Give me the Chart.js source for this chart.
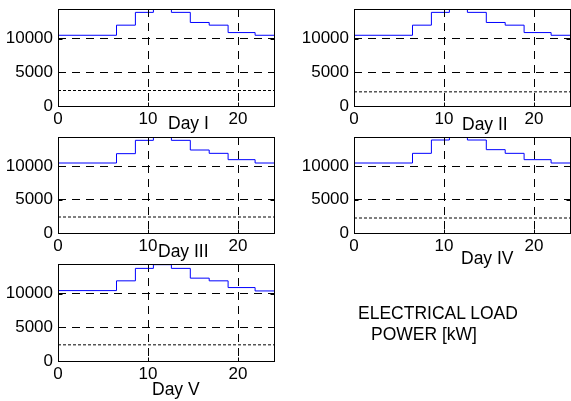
<!DOCTYPE html>
<html>
<head>
<meta charset="utf-8">
<script src="https://cdn.jsdelivr.net/npm/chart.js@4.4.1/dist/chart.umd.min.js"></script>
<style>
  html, body { margin: 0; padding: 0; background: #fff; }
  body { width: 571px; height: 401px; position: relative; overflow: hidden; }
  canvas { position: absolute; }
  .lbl {
    position: absolute;
    font-family: 'Liberation Sans', Arial, sans-serif;
    font-size: 17.5px;
    line-height: 1;
    color: #000;
    white-space: nowrap;
  }
</style>
</head>
<body>
<script>
// hour at which each load step starts (last entry closes the day)
let hours = [0, 6.5, 8.6, 10.6, 12.6, 14.7, 16.8, 18.9, 21.9, 24];

// electrical load per step, kW
let dayI   = [10500, 12000, 13900, 14400, 13900, 12400, 12000, 10900, 10500, 10500];
let dayII  = [10500, 12000, 13900, 14400, 13900, 12400, 12000, 10900, 10500, 10500];
let dayIII = [10500, 11900, 13900, 14400, 13900, 12450, 11950, 11000, 10500, 10500];
let dayIV  = [10500, 11950, 13950, 14400, 13950, 12500, 11950, 11000, 10500, 10500];
let dayV   = [10450, 11900, 13750, 14300, 13750, 12300, 11900, 10900, 10400, 10400];

// lower reference level drawn dotted
let minLoad = [2300, 2100, 2400, 2250, 2400];

let dayNames = ['Day I', 'Day II', 'Day III', 'Day IV', 'Day V'];
let xTicks = [0, 10, 20];
let yTicks = [0, 5000, 10000];
let yMax = 14400;

let fontFamily = "'Liberation Sans', Arial, sans-serif";

// where each small panel sits (plot area left/top and height)
let panels = [
    { load: dayI,   left: 58,  top: 9,   h: 97, label: [168, 114.7] },
    { load: dayII,  left: 354, top: 9,   h: 97, label: [462, 115.7] },
    { load: dayIII, left: 58,  top: 137, h: 96, label: [158, 242.7] },
    { load: dayIV,  left: 354, top: 137, h: 96, label: [461, 249.7] },
    { load: dayV,   left: 58,  top: 264, h: 97, label: [152, 380.7] }
];

let axisW = 58, axisH = 22, padTop = 16, plotW = 216;

// solid frame round the plot area plus small inward ticks
let framePlugin = {
    id: 'frame',
    afterDraw(chart) {
        let ctx = chart.ctx, a = chart.chartArea;
        let l = Math.round(a.left) + 0.5, t = Math.round(a.top) + 0.5;
        let r = Math.round(a.right) + 0.5, b = Math.round(a.bottom) + 0.5;
        ctx.save();
        ctx.strokeStyle = '#000';
        ctx.lineWidth = 1;
        ctx.setLineDash([]);
        ctx.strokeRect(l, t, r - l, b - t);
        ctx.beginPath();
        xTicks.forEach(v => {
            if (v <= 0) return;
            let px = Math.round(chart.scales.x.getPixelForValue(v)) + 0.5;
            ctx.moveTo(px, b); ctx.lineTo(px, b - 4);
            ctx.moveTo(px, t); ctx.lineTo(px, t + 4);
        });
        yTicks.forEach(v => {
            if (v <= 0) return;
            let py = Math.round(chart.scales.y.getPixelForValue(v)) + 0.5;
            ctx.moveTo(l, py); ctx.lineTo(l + 4, py);
            ctx.moveTo(r, py); ctx.lineTo(r - 4, py);
        });
        ctx.stroke();
        ctx.restore();
    }
};

function gridColor(c) {
    return (c.tick && c.tick.value > 0) ? '#000' : 'rgba(0,0,0,0)';
}

panels.forEach((p, i) => {
    let canvas = document.createElement('canvas');
    canvas.width = axisW + plotW + 1;
    canvas.height = padTop + p.h + axisH;
    canvas.style.left = (p.left - axisW) + 'px';
    canvas.style.top = (p.top - padTop) + 'px';
    document.body.appendChild(canvas);

    new Chart(canvas, {
        type: 'line',
        data: {
            datasets: [{
                data: hours.map((h, k) => ({ x: h, y: p.load[k] })),
                borderColor: '#0000ff',
                borderWidth: 1,
                stepped: 'before',
                pointRadius: 0,
                fill: false
            }, {
                data: [{ x: 0, y: minLoad[i] }, { x: 24, y: minLoad[i] }],
                borderColor: '#000',
                borderWidth: 1,
                borderDash: [3, 2],
                pointRadius: 0,
                fill: false
            }]
        },
        options: {
            responsive: false,
            animation: false,
            layout: { padding: { top: padTop, right: 1, left: 0, bottom: 0 } },
            plugins: { legend: { display: false }, tooltip: { enabled: false } },
            scales: {
                x: {
                    type: 'linear',
                    min: 0,
                    max: 24,
                    afterBuildTicks: s => { s.ticks = xTicks.map(v => ({ value: v })); },
                    afterFit: s => { s.height = axisH; },
                    grid: { color: gridColor, lineWidth: 1, drawTicks: false },
                    border: { display: false, dash: [8, 6] },
                    ticks: {
                        color: '#000',
                        font: { family: fontFamily, size: 17 },
                        padding: 3,
                        maxRotation: 0,
                        autoSkip: false,
                        callback: v => String(v)
                    }
                },
                y: {
                    type: 'linear',
                    min: 0,
                    max: yMax,
                    afterBuildTicks: s => { s.ticks = yTicks.map(v => ({ value: v })); },
                    afterFit: s => { s.width = axisW; },
                    grid: { color: gridColor, lineWidth: 1, drawTicks: false },
                    border: { display: false, dash: [8, 6] },
                    ticks: {
                        color: '#000',
                        font: { family: fontFamily, size: 17 },
                        padding: 5,
                        autoSkip: false,
                        callback: v => String(v)
                    }
                }
            }
        },
        plugins: [framePlugin]
    });

    let lbl = document.createElement('div');
    lbl.className = 'lbl';
    lbl.textContent = dayNames[i];
    lbl.style.left = p.label[0] + 'px';
    lbl.style.top = p.label[1] + 'px';
    document.body.appendChild(lbl);
});

let t1 = document.createElement('div');
t1.className = 'lbl';
t1.textContent = 'ELECTRICAL LOAD';
t1.style.left = '358px';
t1.style.top = '304.7px';
document.body.appendChild(t1);

let t2 = document.createElement('div');
t2.className = 'lbl';
t2.textContent = 'POWER [kW]';
t2.style.left = '371px';
t2.style.top = '325.7px';
document.body.appendChild(t2);
</script>
</body>
</html>
